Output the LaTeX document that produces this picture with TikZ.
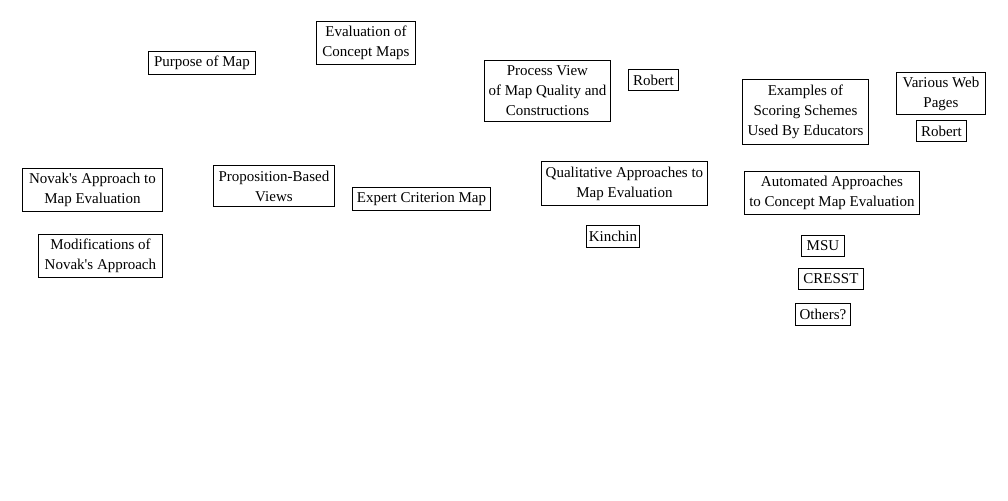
\documentclass[tikz,border=0pt]{standalone}
\usepackage{fontspec}
\setmainfont{Liberation Serif}
\usetikzlibrary{positioning}

\begin{document}
\begin{tikzpicture}[x=1pt, y=-1pt, font=\fontsize{15}{20}\selectfont,
  topic/.style={draw, line width=0.9pt, align=center, inner sep=1pt, anchor=north west},
]
\useasboundingbox (0,0) rectangle (1008,500);
% top row
\node[topic, minimum width=99, minimum height=43] (evalmaps) at (316,21) {Evaluation of\\Concept Maps};
\node[topic, minimum width=107, minimum height=23] (purpose) at (148,51) {Purpose of Map};
\node[topic, minimum width=126, minimum height=61] (process) at (484,60) {Process View\\of Map Quality and\\Constructions};
\node[topic, minimum width=50, minimum height=21] (robertA) at (628,69) {Robert};
\node[topic, minimum width=126, minimum height=65] (scoring) at (742,79) {Examples of\\Scoring Schemes\\Used By Educators};
\node[topic, minimum width=89, minimum height=42] (webpages) at (896,72) {Various Web\\Pages};
\node[topic, minimum width=50, minimum height=21] (robertB) at (916,120) {Robert};
% middle row
\node[topic, minimum width=140, minimum height=43] (novak) at (22,168) {Novak\textquotesingle s Approach to\\Map Evaluation};
\node[topic, minimum width=121, minimum height=41] (proposition) at (213,165) {Proposition-Based\\Views};
\node[topic, minimum width=138, minimum height=23] (expert) at (352,187) {Expert Criterion Map};
\node[topic, minimum width=166, minimum height=44] (qualitative) at (541,161) {Qualitative Approaches to\\Map Evaluation};
\node[topic, minimum width=175, minimum height=43] (automated) at (744,171) {Automated Approaches\\to Concept Map Evaluation};
% lower row
\node[topic, minimum width=124, minimum height=43] (modified) at (38,234) {Modifications of\\Novak\textquotesingle s Approach};
\node[topic, minimum width=53, minimum height=22] (kinchin) at (586,225) {Kinchin};
\node[topic, minimum width=43, minimum height=21] (msu) at (801,235) {MSU};
\node[topic, minimum width=65, minimum height=21] (cresst) at (798,268) {CRESST};
\node[topic, minimum width=55, minimum height=22] (others) at (795,303) {Others?};
\end{tikzpicture}
\end{document}
